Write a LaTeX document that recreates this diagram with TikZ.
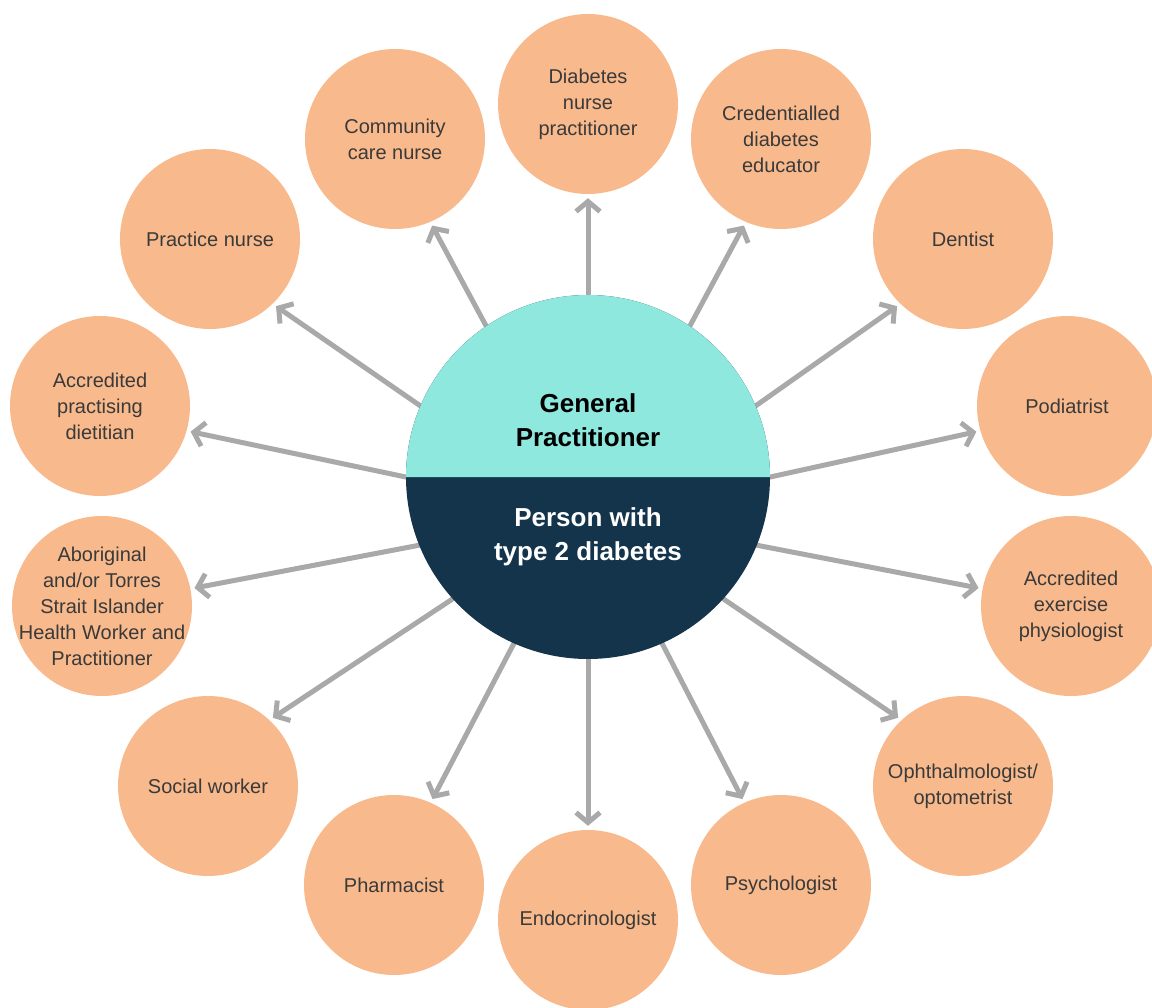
\documentclass[tikz,border=0pt]{standalone}
\usepackage{fontspec}
\setmainfont{Liberation Sans}
\usetikzlibrary{arrows.meta}
\definecolor{peach}{HTML}{F8B98C}
\definecolor{aqua}{HTML}{8EE8DE}
\definecolor{navy}{HTML}{14344C}
\definecolor{spoke}{HTML}{A9A9A9}
\definecolor{labeltext}{HTML}{3A3A3A}

\begin{document}
\begin{tikzpicture}[x=1pt,y=1pt,
  member/.style={circle, fill=peach, minimum size=180pt, inner sep=-20pt,
    align=center, text=labeltext, font=\fontsize{20}{26}\selectfont},
  spokearrow/.style={draw=spoke, line width=5pt,
    -{Straight Barb[length=10pt,width=24pt]}, shorten >=4pt, shorten <=-12pt},
  hubtext/.style={align=center, font=\fontsize{26}{34}\selectfont\bfseries}]
\useasboundingbox (0,0) rectangle (1152,-1008);

% care team around the person
\node[member] (dnp)   at (588,-104)  {Diabetes\\nurse\\practitioner};
\node[member] (comm)  at (395,-139)  {Community\\care nurse};
\node[member] (cred)  at (781,-139)  {Credentialled\\diabetes\\educator};
\node[member] (prac)  at (210,-239)  {Practice nurse};
\node[member] (dent)  at (963,-239)  {Dentist};
\node[member] (diet)  at (100,-406)  {Accredited\\practising\\dietitian};
\node[member] (pod)   at (1067,-406) {Podiatrist};
\node[member] (abor)  at (102,-606)  {Aboriginal\\and/or Torres\\Strait Islander\\Health Worker and\\Practitioner};
\node[member] (exer)  at (1071,-606) {Accredited\\exercise\\physiologist};
\node[member] (soc)   at (208,-786)  {Social worker};
\node[member] (oph)   at (963,-786)  {Ophthalmologist/\\optometrist};
\node[member] (pharm) at (394,-885)  {Pharmacist};
\node[member] (psych) at (781,-885)  {Psychologist};
\node[member] (endo)  at (588,-920)  {Endocrinologist};

% hub outline (filled later, above the spokes)
\node[circle, minimum size=364pt, inner sep=0pt] (gp) at (588,-477) {};

% spokes
\draw[spokearrow] (gp.90)  -- (dnp.-90);
\draw[spokearrow] (gp.124) -- (comm.-67);
\draw[spokearrow] (gp.56)  -- (cred.-113);
\draw[spokearrow] (gp.157) -- (prac.-46);
\draw[spokearrow] (gp.23)  -- (dent.-134);
\draw[spokearrow] (gp.180) -- (diet.-16);
\draw[spokearrow] (gp.0)   -- (pod.196);
\draw[spokearrow] (gp.202) -- (abor.11);
\draw[spokearrow] (gp.-22) -- (exer.169);
\draw[spokearrow] (gp.222) -- (soc.47);
\draw[spokearrow] (gp.-42) -- (oph.133);
\draw[spokearrow] (gp.246) -- (pharm.66);
\draw[spokearrow] (gp.-66) -- (psych.114);
\draw[spokearrow] (gp.270) -- (endo.90);

% two-tone hub
\fill[navy] (gp.center) circle[radius=182];
\fill[aqua] ([xshift=182pt]gp.center) arc[start angle=0, end angle=180, radius=182] -- cycle;
\node[hubtext, text=black] (gptext) at (588,-420) {General\\Practitioner};
\node[hubtext, text=white] (pwtext) at (588,-537) {Person with\\type 2 diabetes};
\end{tikzpicture}
\end{document}
